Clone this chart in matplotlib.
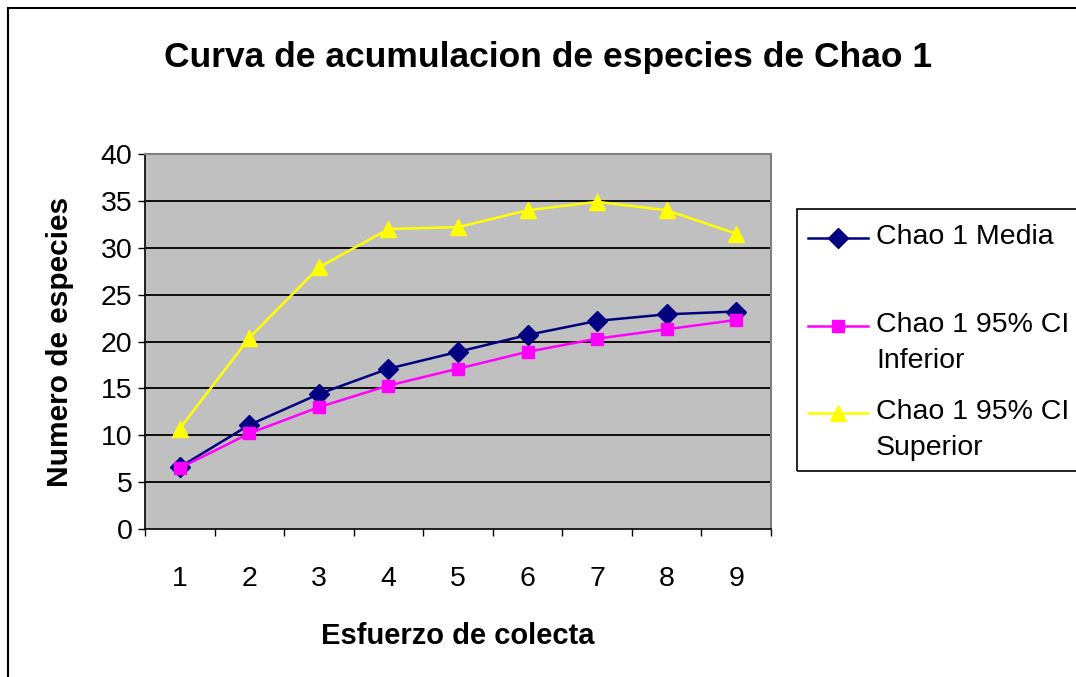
import numpy as np
import matplotlib
matplotlib.use("Agg")
import matplotlib.pyplot as plt
from matplotlib.lines import Line2D
from matplotlib.patches import Rectangle

plt.rcParams['font.family'] = ['Liberation Sans', 'DejaVu Sans']

# esfuerzo de colecta (muestras)
esfuerzo = [1, 2, 3, 4, 5, 6, 7, 8, 9]

# Chao 1 estimates
chao_media = [6.6, 11.1, 14.4, 17.1, 18.9, 20.7, 22.2, 22.9, 23.2]
chao_inferior = [6.5, 10.2, 13.0, 15.3, 17.1, 18.9, 20.3, 21.3, 22.3]
chao_superior = [10.7, 20.4, 27.9, 32.0, 32.2, 34.0, 34.9, 34.0, 31.5]

labels = ['Chao 1 Media', 'Chao 1 95% CI\nInferior', 'Chao 1 95% CI\nSuperior']
colores = ['#000080', '#FF00FF', '#FFFF00']
marcadores = ['D', 's', '^']
tamanos = [10, 9, 11]

W, H = 1076, 677
fig = plt.figure(figsize=(W / 100, H / 100), dpi=100)

# outer chart frame
fig.add_artist(Rectangle((8 / W, -0.05), 1.2, (H - 8) / H + 0.05, transform=fig.transFigure,
                         fill=False, ec='black', lw=1.5))

ax = fig.add_axes([145 / W, 1 - 529 / H, 626 / W, 375 / H])
ax.set_facecolor('#C0C0C0')

series = [chao_media, chao_inferior, chao_superior]
for vals, lab, c, m, ms in zip(series, labels, colores, marcadores, tamanos):
    ax.plot(esfuerzo, vals, color=c, marker=m, markersize=ms, lw=1.8,
            markeredgecolor=c, label=lab, zorder=3)

ax.set_xlim(0.5, 9.5)
ax.set_ylim(0, 40)
ax.set_yticks(np.arange(0, 41, 5))
for y in range(5, 40, 5):
    ax.axhline(y, color='black', lw=1.3, zorder=1)

ax.set_xticks(np.arange(0.5, 9.6, 1))
ax.set_xticklabels([])
ax.set_xticks(esfuerzo, minor=True)
ax.set_xticklabels([str(e) for e in esfuerzo], minor=True)
ax.tick_params(axis='x', which='minor', length=0, pad=27, labelsize=20.5)
ax.tick_params(axis='x', which='major', length=5, width=1, direction='out')
ax.tick_params(axis='y', length=5, width=1, direction='out', labelsize=20.5, pad=4)

for s in ['top', 'right']:
    ax.spines[s].set_color('#808080')
    ax.spines[s].set_linewidth(1.5)
for s in ['left', 'bottom']:
    ax.spines[s].set_color('black')
    ax.spines[s].set_linewidth(1.2)

ax.set_xlabel('Esfuerzo de colecta', fontsize=21, fontweight='bold', labelpad=21)
ax.set_ylabel('Numero de especies', fontsize=21.5, fontweight='bold', labelpad=19)

fig.text(548 / W, 1 - 57 / H, 'Curva de acumulacion de especies de Chao 1',
         fontsize=25.5, fontweight='bold', ha='center', va='center')

# legend box (Excel style, first text line aligned with the key)
fig.add_artist(Rectangle((797 / W, 1 - 471 / H), 0.3, (471 - 209) / H, transform=fig.transFigure,
                         fill=False, ec='black', lw=1.2))
key_y = [238, 326, 413]
for ky, lab, c, m, ms in zip(key_y, labels, colores, marcadores, tamanos):
    yf = 1 - ky / H
    fig.add_artist(Line2D([808 / W, 868 / W], [yf, yf], transform=fig.transFigure,
                          color=c, lw=1.8))
    fig.add_artist(Line2D([838 / W], [yf], transform=fig.transFigure, color=c,
                          marker=m, markersize=ms, markeredgecolor=c))
    fig.text(876 / W, 1 - (ky - 14) / H, lab, fontsize=20.5, ha='left', va='top',
             linespacing=1.5)

fig.savefig('out.png', dpi=100)
